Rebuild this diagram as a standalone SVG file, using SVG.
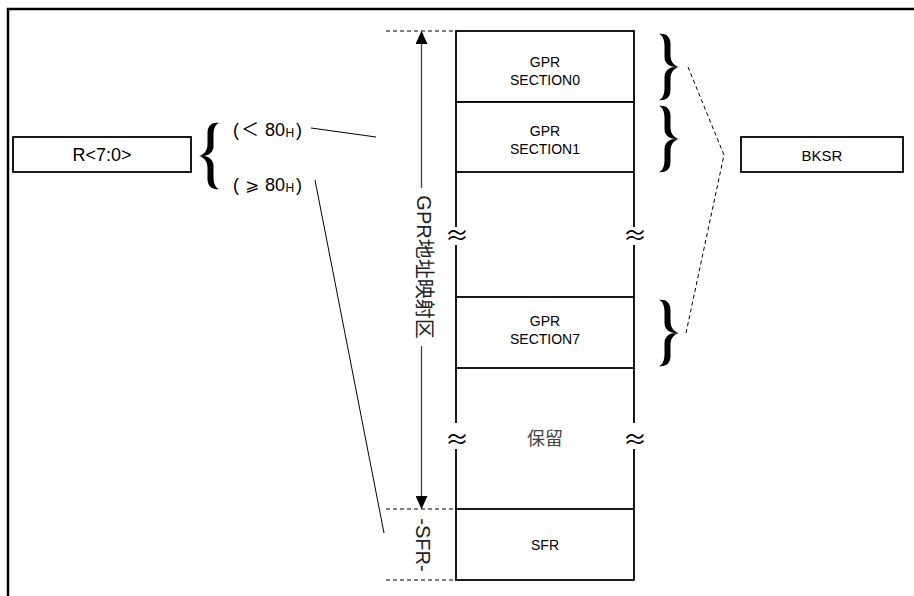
<svg xmlns="http://www.w3.org/2000/svg" width="914" height="596" viewBox="0 0 914 596">
<style>
.t{font-family:"Liberation Sans","Noto Sans CJK SC",Arial,sans-serif;font-size:14px;fill:#000;text-anchor:middle;dominant-baseline:central}
.l{font-family:"Liberation Sans","Noto Sans CJK SC",Arial,sans-serif;font-size:18px;fill:#000;dominant-baseline:central}
.c{font-family:"Noto Sans CJK SC","Liberation Sans",sans-serif;font-size:18px;fill:#444;text-anchor:middle;dominant-baseline:central}
.b{stroke:#000;stroke-width:1.8;fill:#fff}
.v{stroke:#000;stroke-width:1.8;fill:none}
.d{stroke:#000;stroke-width:1;stroke-dasharray:4,3;fill:none}
.ap{font-family:"Noto Sans CJK SC","DejaVu Sans",sans-serif;font-size:24px;fill:#000;text-anchor:middle;dominant-baseline:central}
</style>
<defs>
<marker id="ah" viewBox="0 0 13 12" refX="13" refY="6" markerWidth="13" markerHeight="12" markerUnits="userSpaceOnUse" orient="auto">
<path d="M0,0 L13,6 L0,12 Z" fill="#000"/>
</marker>
<path id="brace" fill="#000" d="M0,1 C6,0 11.5,3 11.5,11 L11.5,22 C11.5,29 15,33 21,34 C13,35 5.5,32 5.5,24 L5.5,13 C5.5,6 3,1.8 0,1 Z M0,67 C6,68 11.5,65 11.5,57 L11.5,46 C11.5,39 15,35 21,34 C13,33 5.5,36 5.5,44 L5.5,55 C5.5,62 3,66.2 0,67 Z"/>
</defs>
<rect width="914" height="596" fill="#fff"/>
<path d="M8,596 V9 H914" fill="none" stroke="#000" stroke-width="2.5"/>

<g id="r70">
<rect x="13" y="137" width="178" height="35" class="b"/>
<text x="102" y="155" class="t" style="font-size:18px">R&lt;7:0&gt;</text>
</g>
<g id="leftbrace">
<use href="#brace" transform="translate(219,122) scale(-1,1)"/>
<text y="130" class="l"><tspan x="233">(</tspan><tspan x="241">＜</tspan><tspan x="265">80</tspan><tspan x="285.5" style="font-size:12px" dy="3">H</tspan><tspan x="296" dy="-3">)</tspan></text>
<text y="185" class="l"><tspan x="233">(</tspan><tspan x="245" style="font-family:'DejaVu Sans','Noto Sans CJK SC',sans-serif;font-size:17px">⩾</tspan><tspan x="265">80</tspan><tspan x="285.5" style="font-size:12px" dy="3">H</tspan><tspan x="296" dy="-3">)</tspan></text>
</g>
<g id="bksr">
<rect x="741" y="137" width="162" height="35" class="b"/>
<text x="822" y="155" class="t" style="font-size:15px">BKSR</text>
</g>

<g id="column">
<rect x="456" y="31" width="178" height="71" class="b"/>
<text x="545" y="62" class="t">GPR</text>
<text x="545" y="80" class="t">SECTION0</text>
<rect x="456" y="102" width="178" height="70" class="b"/>
<text x="545" y="131" class="t">GPR</text>
<text x="545" y="149" class="t">SECTION1</text>
<path d="M456,172 V227 M456,245 V297 M634,172 V227 M634,245 V297" class="v"/>
<text x="457" y="233" class="ap">≈</text>
<text x="635" y="233" class="ap">≈</text>
<rect x="456" y="297" width="178" height="71" class="b"/>
<text x="545" y="321" class="t">GPR</text>
<text x="545" y="339" class="t">SECTION7</text>
<path d="M456,368 V423 M456,449 V509 M634,368 V423 M634,449 V509" class="v"/>
<text x="457" y="437" class="ap">≈</text>
<text x="635" y="437" class="ap">≈</text>
<text x="545" y="437" class="c">保留</text>
<rect x="456" y="509" width="178" height="71" class="b"/>
<text x="545" y="545" class="t">SFR</text>
</g>

<g id="rightbraces">
<use href="#brace" transform="translate(659,33)"/>
<use href="#brace" transform="translate(659,105)"/>
<use href="#brace" transform="translate(659,299)"/>
</g>

<g id="connectors">
<path d="M386,31 H456 M386,509 H456 M386,580 H456" class="d"/>
<line x1="421.5" y1="188" x2="421.5" y2="31" stroke="#444" stroke-width="1.3" marker-end="url(#ah)"/>
<line x1="421.5" y1="346" x2="421.5" y2="509" stroke="#444" stroke-width="1.3" marker-end="url(#ah)"/>
<line x1="311" y1="128" x2="376" y2="137" stroke="#000" stroke-width="1"/>
<line x1="315" y1="180" x2="384" y2="533" stroke="#000" stroke-width="1"/>
<path d="M688,67 L724,155 L686,333" class="d"/>
</g>

<g id="labels">
<text x="267" y="-424" class="t" style="font-size:20px;fill:#222" transform="rotate(90)">GPR地址映射区</text>
<text x="545" y="-423" class="t" style="font-size:20px;fill:#222" transform="rotate(90)">-SFR-</text>
</g>
</svg>
